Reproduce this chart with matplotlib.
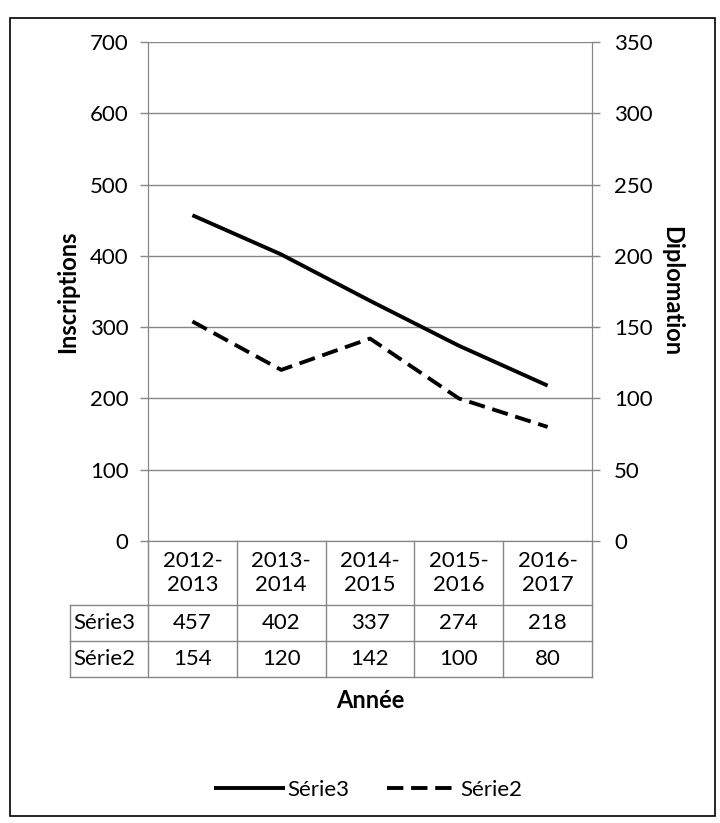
import matplotlib
matplotlib.use("Agg")
import matplotlib.pyplot as plt
from matplotlib.patches import Rectangle

plt.rcParams["font.family"] = ["Lato", "DejaVu Sans"]

# ── Données ────────────────────────────────────────────────────────────────────
annees = ["2012-\n2013", "2013-\n2014", "2014-\n2015", "2015-\n2016", "2016-\n2017"]
serie3 = [457, 402, 337, 274, 218]   # Inscriptions (axe gauche)
serie2 = [154, 120, 142, 100, 80]    # Diplomation (axe droit)
noms = ["Série3", "Série2"]

GRIS = "#868686"
FS = 16
FS_TITRE = 17

# ── Mise en page (pixels) ─────────────────────────────────────────────────────
W, H = 720, 823
AX_L, AX_R, AX_T, AX_B = 148, 592, 42, 541
AX_H = AX_B - AX_T
TAB_LEFT = 70
ROW_HDR, ROW_H = 64, 36

fig = plt.figure(figsize=(W / 100, H / 100), dpi=100)
ax = fig.add_axes([AX_L / W, 1 - AX_B / H, (AX_R - AX_L) / W, AX_H / H])
ax2 = ax.twinx()

x = list(range(len(annees)))
l1, = ax.plot(x, serie3, color="black", lw=2.8, solid_capstyle="butt", label=noms[0])
l2, = ax2.plot(x, serie2, color="black", lw=2.8, ls=(0, (4.2, 2.0)), label=noms[1])

ax.set_xlim(-0.5, len(annees) - 0.5)
ax.set_ylim(0, 700)
ax2.set_ylim(0, 350)
ax.set_yticks(range(0, 701, 100))
ax2.set_yticks(range(0, 351, 50))
ax.set_xticks([])
ax.grid(axis="y", color=GRIS, lw=1)
ax.set_axisbelow(True)

for a in (ax, ax2):
    a.spines["top"].set_visible(False)
    for s in ("left", "right", "bottom"):
        a.spines[s].set_color(GRIS)
ax.tick_params(axis="y", length=6, width=1, color=GRIS, pad=8, labelsize=FS)
ax2.tick_params(axis="y", length=6, width=1, color=GRIS, pad=10, labelsize=FS)

ax.set_ylabel("Inscriptions", fontsize=FS_TITRE, fontweight="bold", labelpad=8)
ax2.set_ylabel("Diplomation", fontsize=FS_TITRE, fontweight="bold", rotation=270, labelpad=22)

# ── Tableau de données ────────────────────────────────────────────────────────
tr = ax.get_xaxis_transform()
px = 1.0 / AX_H
y_hdr = -ROW_HDR * px
y_rows = [y_hdr - ROW_H * px * (i + 1) for i in range(2)]
x_left = -0.5 - (AX_L - TAB_LEFT) * len(annees) / (AX_R - AX_L)

line_kw = dict(color=GRIS, lw=1, transform=tr, clip_on=False)
for xb in [i - 0.5 for i in range(len(annees) + 1)]:
    ax.plot([xb, xb], [0, y_rows[-1]], **line_kw)
ax.plot([x_left, x_left], [y_hdr, y_rows[-1]], **line_kw)
for yb in [y_hdr] + y_rows:
    ax.plot([x_left, len(annees) - 0.5], [yb, yb], **line_kw)

for i, lab in enumerate(annees):
    ax.text(i, y_hdr / 2, lab, transform=tr, ha="center", va="center",
            fontsize=FS, linespacing=1.3)

y_prev = y_hdr
for nom, vals, yb in zip(noms, [serie3, serie2], y_rows):
    yc = (y_prev + yb) / 2
    ax.text(x_left + 0.04, yc, nom, transform=tr, ha="left", va="center", fontsize=FS)
    for i, v in enumerate(vals):
        ax.text(i, yc, str(v), transform=tr, ha="center", va="center", fontsize=FS)
    y_prev = yb

ax.text(0.5, y_rows[-1] - 24 * px, "Année", transform=ax.transAxes, ha="center",
        va="center", fontsize=FS_TITRE, fontweight="bold")

# ── Légende ───────────────────────────────────────────────────────────────────
fig.legend([l1, l2], noms, loc="center", bbox_to_anchor=(368 / W, 1 - 790 / H),
           ncol=2, frameon=False, fontsize=FS, handlelength=3.2,
           handletextpad=0.1, columnspacing=1.7)

fig.patches.append(Rectangle((10 / W, 1 - 816 / H), 705 / W, 798 / H,
                             transform=fig.transFigure, fill=False,
                             edgecolor="black", lw=1.2))

fig.savefig("out.png", dpi=100)
